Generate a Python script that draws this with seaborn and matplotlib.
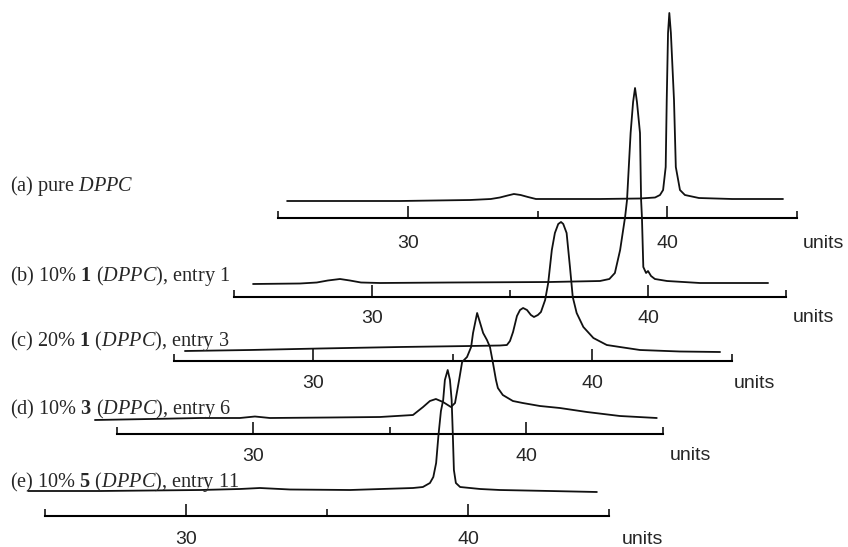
import matplotlib
matplotlib.use("Agg")
import matplotlib.pyplot as plt
import seaborn as sns

# DSC traces: temperature (x) and heat flow (arbitrary units above each baseline axis)
temp_a = [25.35, 29.70, 32.40, 33.20, 33.55, 33.85, 34.09, 34.35, 34.63, 34.94,
          37.41, 38.95, 39.53, 39.72, 39.84, 39.94, 39.98, 40.03, 40.08, 40.14,
          40.26, 40.33, 40.49, 40.68, 41.22, 42.50, 44.46]
flow_a = [17, 17, 18, 19, 20.5, 22.5, 24, 23, 21, 19,
          19, 19.5, 20.5, 23, 28, 51, 118, 185, 205, 185,
          118, 51, 28, 23, 20, 19, 19]

temp_b = [25.69, 27.39, 28.00, 28.40, 28.84, 29.20, 29.60, 30.29, 32.83, 36.45,
          38.26, 38.60, 38.80, 38.99, 39.17, 39.24, 39.37, 39.46, 39.53, 39.60,
          39.71, 39.75, 39.78, 39.83, 39.93, 40.00, 40.11, 40.25, 40.69, 41.88,
          44.35]
flow_b = [13, 13.5, 14.5, 16.5, 18, 16.5, 14.5, 14, 14.5, 15,
          16, 18, 24, 47, 80, 97, 164, 195, 209, 195,
          164, 97, 80, 30, 24, 26, 21, 18, 16, 14,
          14]

temp_c = [25.41, 27.74, 30.25, 33.12, 35.63, 36.70, 36.95, 37.06, 37.17, 37.31,
          37.42, 37.53, 37.67, 37.81, 37.92, 38.06, 38.17, 38.32, 38.43, 38.56,
          38.67, 38.79, 38.89, 38.97, 39.09, 39.21, 39.31, 39.45, 39.69, 40.05,
          40.53, 41.00, 41.72, 43.15, 44.59]
flow_c = [10, 11, 12.5, 14, 15, 15.5, 16, 20, 29, 45,
          51, 53, 51, 46, 44, 46, 49, 61, 78, 111,
          128, 137, 139, 137, 128, 94, 64, 48, 34, 23,
          16, 14, 11, 9.5, 9]

temp_d = [24.21, 26.23, 28.06, 29.52, 30.07, 30.62, 32.82, 34.65, 35.86, 36.23,
          36.48, 36.70, 36.96, 37.25, 37.40, 37.55, 37.66, 37.84, 37.99, 38.06,
          38.21, 38.32, 38.43, 38.57, 38.68, 38.79, 38.90, 38.97, 39.15, 39.52,
          39.88, 40.51, 41.24, 42.23, 43.44, 44.79]
flow_d = [14, 15, 16, 16, 17.5, 16, 16.5, 17, 19, 27,
          33, 35, 32, 27, 31, 54, 72, 77, 87, 101,
          121, 111, 101, 94, 87, 71, 54, 46, 39, 33,
          31, 28, 26, 22, 18, 16]

temp_e = [24.40, 26.95, 30.50, 31.91, 32.62, 33.69, 35.82, 38.05, 38.40, 38.65,
          38.77, 38.87, 38.95, 39.04, 39.12, 39.18, 39.28, 39.36, 39.42, 39.46,
          39.50, 39.57, 39.72, 40.43, 41.13, 42.91, 44.57]
flow_e = [25, 25, 26, 27, 28, 26.5, 26, 28, 29, 33,
          39, 53, 80, 105, 116, 136, 146, 136, 116, 83,
          46, 33, 29, 27, 26, 25, 24]

temps = [temp_a, temp_b, temp_c, temp_d, temp_e]
flows = [flow_a, flow_b, flow_c, flow_d, flow_e]

labels = [r"(a) pure $\mathit{DPPC}$",
          r"(b) 10% $\mathbf{1}$ ($\mathit{DPPC}$), entry 1",
          r"(c) 20% $\mathbf{1}$ ($\mathit{DPPC}$), entry 3",
          r"(d) 10% $\mathbf{3}$ ($\mathit{DPPC}$), entry 6",
          r"(e) 10% $\mathbf{5}$ ($\mathit{DPPC}$), entry 11"]

major_ticks = [30, 40]
minor_ticks = [25, 35, 45]
x_range = (25, 45)
unit_label = "units"

# layout of the stacked axes, in pixels: left edge, px per degree, axis line y,
# tick label pad, "units" offset, label centre y
panels = [
    dict(x0=278, k=25.95, y0=218, pad=12.2, uoff=(26, -25), ly=186),
    dict(x0=234, k=27.6, y0=297, pad=9.6, uoff=(27, -21), ly=276),
    dict(x0=173.5, k=27.9, y0=361, pad=9.8, uoff=(23, -22), ly=341),
    dict(x0=116.5, k=27.3, y0=434, pad=10.4, uoff=(28, -21), ly=409),
    dict(x0=45, k=28.2, y0=516, pad=10.6, uoff=(33, -23), ly=482),
]

sns.set_style("ticks")
plt.rcParams['font.family'] = ['Liberation Sans', 'DejaVu Sans']
plt.rcParams['mathtext.fontset'] = 'custom'
plt.rcParams['mathtext.rm'] = 'Liberation Serif'
plt.rcParams['mathtext.it'] = 'Liberation Serif:italic'
plt.rcParams['mathtext.bf'] = 'Liberation Serif:bold'

W, H = 848, 547
YMAX = 210
fig = plt.figure(figsize=(W / 100, H / 100), dpi=100)

for i, p in enumerate(panels):
    width = (x_range[1] - x_range[0]) * p['k']
    ax = fig.add_axes([p['x0'] / W, (H - p['y0']) / H, width / W, YMAX / H])
    ax.set_facecolor('none')
    sns.lineplot(x=temps[i], y=flows[i], ax=ax, color='#111111', linewidth=1.3,
                 sort=False, estimator=None)
    ax.lines[-1].set_clip_on(False)
    ax.lines[-1].set_solid_joinstyle('round')
    ax.set_xlim(*x_range)
    ax.set_ylim(0, YMAX)
    ax.set_xlabel('')
    ax.set_ylabel('')
    ax.set_yticks([])
    ax.set_xticks(major_ticks)
    ax.set_xticklabels([str(t) for t in major_ticks])
    ax.set_xticks(minor_ticks, minor=True)
    ax.tick_params(axis='x', which='major', direction='in', length=8.6, width=1.1,
                   pad=p['pad'], labelsize=14, bottom=True, color='black')
    ax.tick_params(axis='x', which='minor', direction='in', length=4.7, width=1.1,
                   bottom=True, color='black')
    sns.despine(ax=ax, left=True)
    ax.spines['bottom'].set_linewidth(1.5)
    ax.spines['bottom'].set_color('black')
    ax.annotate(unit_label, xy=(1, 0), xycoords='axes fraction',
                xytext=p['uoff'], textcoords='offset pixels',
                ha='center', va='center', fontsize=14)
    fig.text(10 / W, 1 - p['ly'] / H, labels[i], ha='left', va='center',
             fontsize=14.6, family='Liberation Serif')

fig.savefig('out.png', dpi=100)
